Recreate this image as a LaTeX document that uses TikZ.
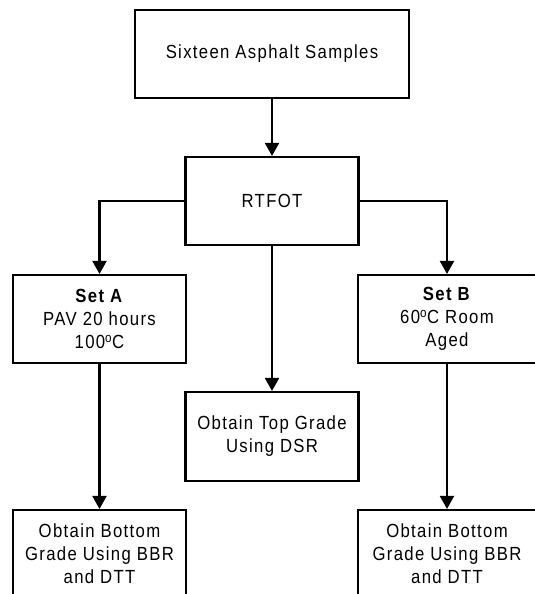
\documentclass[tikz,border=0pt]{standalone}
\usepackage{fontspec}
\setmainfont{Liberation Sans}[FakeStretch=0.88, LetterSpace=7]
\usetikzlibrary{arrows.meta, positioning}
\tikzset{
  % box style
  stage/.style={
    draw, line width = 2.1pt, align=center,
    minimum width=173pt, minimum height=88pt,
    inner sep=0pt,
    font=\fontsize{19}{23}\selectfont
  },
  % arrow style
  garr/.style={
    line width = 2.1pt,
    -{Triangle[length=13pt,width=14pt]}
  },
}

\begin{document}
\begin{tikzpicture}[x=1pt,y=-1pt]
          \clip (0,0) rectangle (535,594);
          \fill[white] (0,0) rectangle (535,594);

          \node (samples) [stage, minimum width=274pt] at (272,54)
                    {Sixteen Asphalt Samples};
          \node (rtfot) [stage] at (272,201) {RTFOT};
          \node (seta) [stage] at (99.5,319)
                    {\textbf{Set A}\\PAV 20 hours\\100\textsuperscript{o}C};
          \node (setb) [stage
                       , minimum width=178pt
                       ] at (447,319)
                       {\textbf{Set B}\\60\textsuperscript{o}C Room\\Aged};
          \node (dsr) [stage, minimum height=89pt] at (272,436.5)
                    {Obtain Top Grade\\Using DSR};
          \node (bota) [stage] at (99.5,554)
                    {Obtain Bottom\\Grade Using BBR\\and DTT};
          \node (botb) [stage
                       , minimum width=178pt
                       ] at (447,554)
                       {Obtain Bottom\\Grade Using BBR\\and DTT};

          \draw[garr] (samples) -- (rtfot);
          \draw[garr] (rtfot.west) -| (seta.north);
          \draw[garr] (rtfot.east) -| (setb.north);
          \draw[garr] (rtfot) -- (dsr);
          \draw[garr] (seta) -- (bota);
          \draw[garr] (setb) -- (botb);
      \end{tikzpicture}
\end{document}
